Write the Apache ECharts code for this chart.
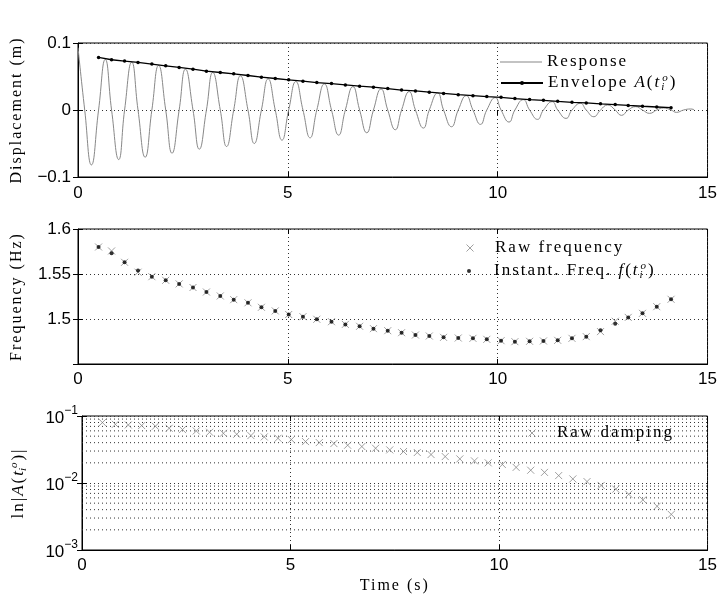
<!DOCTYPE html>
<html><head><meta charset="utf-8">
<script src="https://cdn.jsdelivr.net/npm/echarts@6/dist/echarts.min.js"></script>
<style>html,body{margin:0;padding:0;background:#fff}#c{width:720px;height:596px}</style>
</head><body><div id="c"></div>
<script>
// ---- letter spacing for the serif (LaTeX-like) texts ----
(function(){
  var P = CanvasRenderingContext2D.prototype;
  if (!('letterSpacing' in P)) return;
  var of = P.fillText, om = P.measureText;
  function sp(f){ return /Liberation Serif/.test(f) ? '2px' : '0px'; }
  P.fillText = function(t,x,y,m){ this.letterSpacing = sp(this.font); return m === undefined ? of.call(this,t,x,y) : of.call(this,t,x,y,m); };
  P.measureText = function(t){ this.letterSpacing = sp(this.font); return om.call(this,t); };
})();

// ---- data ----
const respT = [0, 0.16, 0.32, 0.49, 0.65, 0.80, 0.97, 1.11, 1.28, 1.43, 1.60, 1.76, 1.92, 2.09, 2.24, 2.41, 2.56, 2.74, 2.89, 3.06, 3.21, 3.39, 3.54, 3.71, 3.87, 4.05, 4.20, 4.37, 4.53, 4.70, 4.86, 5.02, 5.19, 5.36, 5.53, 5.69, 5.87, 6.04, 6.21, 6.37, 6.55, 6.71, 6.88, 7.04, 7.22, 7.38, 7.56, 7.71, 7.89, 8.04, 8.23, 8.37, 8.57, 8.71, 8.90, 9.06, 9.25, 9.41, 9.59, 9.74, 9.94, 10.08, 10.27, 10.41, 10.61, 10.76, 10.95, 11.09, 11.30, 11.43, 11.63, 11.77, 11.97, 12.11, 12.29, 12.45, 12.62, 12.80, 12.95, 13.11, 13.29, 13.45, 13.62, 13.79, 13.95, 14.13, 14.26, 14.43, 14.60, 14.68];
const respY = [0.093, 0, -0.082, 0, 0.0755, 0, -0.074, 0, 0.0715, 0, -0.0705, 0, 0.0665, 0, -0.0645, 0, 0.061, 0, -0.0585, 0, 0.056, 0, -0.0545, 0, 0.051, 0, -0.050, 0, 0.0465, 0, -0.045, 0, 0.0425, 0, -0.0415, 0, 0.039, 0, -0.0375, 0, 0.035, 0, -0.034, 0, 0.0315, 0, -0.0295, 0, 0.0275, 0, -0.027, 0, 0.0255, 0, -0.025, 0, 0.0215, 0, -0.0215, 0, 0.0185, 0, -0.018, 0, 0.0155, 0, -0.014, 0, 0.0125, 0, -0.0125, 0, 0.010, 0, -0.010, 0, 0.0075, 0, -0.008, 0, 0.005, 0, -0.005, 0, 0.003, 0, -0.0035, 0, 0.0015, 0.0005];

const sampleT = [0.49, 0.80, 1.11, 1.43, 1.76, 2.09, 2.41, 2.74, 3.06, 3.39, 3.71, 4.05, 4.37, 4.70, 5.02, 5.36, 5.69, 6.04, 6.37, 6.71, 7.04, 7.38, 7.71, 8.04, 8.37, 8.71, 9.06, 9.41, 9.74, 10.08, 10.41, 10.76, 11.09, 11.43, 11.77, 12.11, 12.45, 12.80, 13.11, 13.45, 13.79, 14.13];
const envelopeA = [0.0785, 0.075, 0.073, 0.071, 0.0685, 0.066, 0.0635, 0.061, 0.058, 0.056, 0.054, 0.0515, 0.049, 0.047, 0.045, 0.043, 0.041, 0.0395, 0.0375, 0.0355, 0.034, 0.032, 0.0298, 0.0285, 0.0266, 0.0248, 0.0229, 0.0214, 0.0200, 0.0189, 0.0171, 0.0155, 0.0144, 0.0129, 0.0115, 0.0105, 0.0092, 0.0081, 0.0068, 0.0056, 0.0045, 0.0034];
const rawFreq = [1.580, 1.5756, 1.563, 1.552, 1.547, 1.543, 1.539, 1.535, 1.530, 1.5256, 1.5215, 1.518, 1.513, 1.509, 1.505, 1.5026, 1.4997, 1.497, 1.494, 1.4919, 1.4893, 1.487, 1.4848, 1.4822, 1.4811, 1.4796, 1.4789, 1.4785, 1.4774, 1.4759, 1.4748, 1.4752, 1.4756, 1.4763, 1.4785, 1.4804, 1.4860, 1.4975, 1.5018, 1.5063, 1.5137, 1.5219];
const instFreq = [1.580, 1.573, 1.563, 1.554, 1.547, 1.543, 1.539, 1.535, 1.530, 1.5256, 1.5215, 1.518, 1.513, 1.509, 1.505, 1.5026, 1.4997, 1.497, 1.494, 1.4919, 1.4893, 1.487, 1.4848, 1.4822, 1.4811, 1.4796, 1.4789, 1.4785, 1.4774, 1.4759, 1.4748, 1.4752, 1.4756, 1.4763, 1.4785, 1.4804, 1.4874, 1.4948, 1.5018, 1.5063, 1.5137, 1.5219];
const rawDamping = [0.0798, 0.0751, 0.0735, 0.0720, 0.0703, 0.0656, 0.0627, 0.0598, 0.0572, 0.0552, 0.0534, 0.0510, 0.0487, 0.0465, 0.0445, 0.0415, 0.0401, 0.0388, 0.0366, 0.0350, 0.0330, 0.0312, 0.0295, 0.0285, 0.0266, 0.0248, 0.0229, 0.0214, 0.0200, 0.0189, 0.0171, 0.0155, 0.0144, 0.0129, 0.0115, 0.0105, 0.0092, 0.0081, 0.0068, 0.0056, 0.0045, 0.0034];

const xTickVals = [0, 5, 10, 15];
const xTickText = ['0', '5', '10', '15'];
const dispTickVals = [-0.1, 0, 0.1];
const dispTickText = ['\u22120.1', '0', '0.1'];
const freqTickVals = [1.5, 1.55, 1.6];
const freqTickText = ['1.5', '1.55', '1.6'];
const dampTickVals = [0.001, 0.01, 0.1];
const dampTickExp = ['\u22123', '\u22122', '\u22121'];
const dampMinorVals = [0.002, 0.003, 0.004, 0.005, 0.006, 0.007, 0.008, 0.009, 0.02, 0.03, 0.04, 0.05, 0.06, 0.07, 0.08, 0.09];

// ---- styles ----
const SANS = 'Liberation Sans';
const SERIF = 'Liberation Serif';
const GRAY = '#888888';
const xMark = 'path://M0,0L10,10M10,0L0,10';
const gridDot = { type: [1, 3], color: '#333', width: 1 };

function pick(vals, texts, v) {
  for (let i = 0; i < vals.length; i++) if (Math.abs(vals[i] - v) < 1e-9 * Math.max(1, Math.abs(v)) + 1e-12) return texts[i];
  return '';
}
function pickLog(v) {
  for (let i = 0; i < dampTickVals.length; i++) if (Math.abs(v / dampTickVals[i] - 1) < 1e-6) return '{b|10}{s|' + dampTickExp[i] + '}';
  return '';
}

const mathRich = {
  n: { fontFamily: SERIF, fontSize: 17, lineHeight: 22, color: '#000' },
  m: { fontFamily: SERIF, fontSize: 17, fontStyle: 'italic', lineHeight: 22, color: '#000' },
  sb: { fontFamily: SERIF, fontSize: 11, fontStyle: 'italic', lineHeight: 11, verticalAlign: 'bottom', width: 1, color: '#000' },
  sp: { fontFamily: SERIF, fontSize: 11, fontStyle: 'italic', lineHeight: 11, verticalAlign: 'top', color: '#000' }
};

const grids = [
  { left: 78, top: 43, width: 630, height: 134 },
  { left: 78, top: 229, width: 630, height: 135 },
  { left: 78, top: 416, width: 630, height: 134 }
].map(g => Object.assign(g, { show: true, borderColor: '#000', borderWidth: 1, backgroundColor: '#fff' }));

function mainX(i) {
  const ax = {
    gridIndex: i, type: 'value', min: 0, max: 15, interval: 5,
    axisLine: { show: true, onZero: false, lineStyle: { color: '#000', width: 1 } },
    axisTick: { show: true, inside: true, length: 5, lineStyle: { color: '#000' } },
    axisLabel: { margin: i === 0 ? 8 : 7, fontFamily: SANS, fontSize: 17, color: '#000', formatter: v => pick(xTickVals, xTickText, v) },
    splitLine: { show: true, lineStyle: gridDot }
  };
  if (i === 2) {
    ax.name = 'Time (s)';
    ax.nameLocation = 'middle';
    ax.nameGap = 27;
    ax.nameTextStyle = { fontFamily: SERIF, fontSize: 16, color: '#000' };
  }
  return ax;
}
function topX(i) {
  return {
    gridIndex: i, type: 'value', min: 0, max: 15, interval: 5, position: 'top',
    axisLine: { show: false }, axisTick: { show: true, inside: true, length: 5, lineStyle: { color: '#000' } },
    axisLabel: { show: false }, splitLine: { show: false }
  };
}
const yCommon = {
  axisLine: { show: true, onZero: false, lineStyle: { color: '#000', width: 1 } },
  axisTick: { show: true, inside: true, length: 5, lineStyle: { color: '#000' } },
  splitLine: { show: true, lineStyle: gridDot },
  nameLocation: 'middle', nameRotate: 90, nameGap: 52
};
const yAxes = [
  Object.assign({}, yCommon, {
    gridIndex: 0, type: 'value', min: -0.1, max: 0.1, interval: 0.1,
    name: 'Displacement (m)', nameTextStyle: { fontFamily: SERIF, fontSize: 16, color: '#000' },
    axisLabel: { margin: 7, fontFamily: SANS, fontSize: 17, color: '#000', formatter: v => pick(dispTickVals, dispTickText, v) }
  }),
  Object.assign({}, yCommon, {
    gridIndex: 1, type: 'value', min: 1.45, max: 1.6, interval: 0.05,
    name: 'Frequency (Hz)', nameTextStyle: { fontFamily: SERIF, fontSize: 16, color: '#000' },
    axisLabel: { margin: 7, fontFamily: SANS, fontSize: 17, color: '#000', formatter: v => pick(freqTickVals, freqTickText, v) }
  }),
  Object.assign({}, yCommon, {
    gridIndex: 2, type: 'log', logBase: 10, min: 0.001, max: 0.1,
    name: '{n|ln|}{m|A}{n|(}{m|t}{sb|i}{sp|o}{n|)|}',
    nameTextStyle: { fontFamily: SERIF, fontSize: 16, color: '#000', rich: mathRich },
    axisLabel: { margin: 4, color: '#000', formatter: v => pickLog(v),
      rich: { b: { fontFamily: SANS, fontSize: 17, lineHeight: 22, verticalAlign: 'bottom', color: '#000' },
              s: { fontFamily: SANS, fontSize: 12, lineHeight: 10, verticalAlign: 'top', color: '#000' } } }
  }),
  { gridIndex: 0, type: 'value', min: -0.1, max: 0.1, interval: 0.1, position: 'right', axisLine: { show: false }, axisTick: { show: true, inside: true, length: 5, lineStyle: { color: '#000' } }, axisLabel: { show: false }, splitLine: { show: false } },
  { gridIndex: 1, type: 'value', min: 1.45, max: 1.6, interval: 0.05, position: 'right', axisLine: { show: false }, axisTick: { show: true, inside: true, length: 5, lineStyle: { color: '#000' } }, axisLabel: { show: false }, splitLine: { show: false } },
  { gridIndex: 2, type: 'log', logBase: 10, min: 0.001, max: 0.1, position: 'right', axisLine: { show: false }, axisTick: { show: true, inside: true, length: 5, lineStyle: { color: '#000' } }, axisLabel: { show: false }, splitLine: { show: false } }
];

function legendBase(extra) {
  return Object.assign({
    orient: 'vertical', padding: 0, itemGap: 0, selectedMode: false,
    textStyle: { fontFamily: SERIF, fontSize: 17, lineHeight: 22, color: '#000', rich: mathRich }
  }, extra);
}
const legendText = {
  'Response': '{n|Response}',
  'Envelope': '{n|Envelope }{m|A}{n|(}{m|t}{sb|i}{sp|o}{n|)}',
  'Raw frequency': '{n|Raw frequency}',
  'Instant. Freq.': '{n|Instant. Freq. }{m|f}{n|(}{m|t}{sb|i}{sp|o}{n|)}',
  'Raw damping': '{n|Raw damping}'
};
const fmt = name => legendText[name] || name;

// minor log grid lines drawn as plain line series through the log scale
const minorGridSeries = dampMinorVals.map(v => ({
  type: 'line', xAxisIndex: 2, yAxisIndex: 2, silent: true, symbol: 'none', z: 1,
  lineStyle: gridDot, data: [[xTickVals[0], v], [xTickVals[xTickVals.length - 1], v]]
}));

const option = {
  animation: false,
  backgroundColor: '#fff',
  grid: grids,
  xAxis: [mainX(0), mainX(1), mainX(2), topX(0), topX(1), topX(2)],
  yAxis: yAxes,
  legend: [
    legendBase({ left: 500, top: 51, itemWidth: 42, itemHeight: 1, formatter: fmt,
      data: [{ name: 'Response', icon: 'rect', itemStyle: { color: GRAY, borderWidth: 0 } }] }),
    legendBase({ left: 500, top: 72, itemWidth: 42, itemHeight: 5, formatter: fmt,
      data: [{ name: 'Envelope' }] }),
    legendBase({ left: 466, top: 237, itemWidth: 40, itemHeight: 7, formatter: fmt,
      data: [{ name: 'Raw frequency', icon: xMark, itemStyle: { color: 'rgba(0,0,0,0)', borderColor: GRAY, borderWidth: 1 } }] }),
    legendBase({ left: 467, top: 260, itemWidth: 40, itemHeight: 4, formatter: fmt,
      data: [{ name: 'Instant. Freq.', icon: 'circle', itemStyle: { color: '#000', borderWidth: 0 } }] }),
    legendBase({ left: 528, top: 422, itemWidth: 40, itemHeight: 7, formatter: fmt,
      data: [{ name: 'Raw damping', icon: xMark, itemStyle: { color: 'rgba(0,0,0,0)', borderColor: GRAY, borderWidth: 1 } }] })
  ],
  series: [
    { name: 'Response', type: 'line', xAxisIndex: 0, yAxisIndex: 0, smooth: 0.5, symbol: 'none', showSymbol: false,
      lineStyle: { color: GRAY, width: 1 }, itemStyle: { color: GRAY },
      data: respT.map((t, i) => [t, respY[i]]) },
    { name: 'Envelope', type: 'line', xAxisIndex: 0, yAxisIndex: 0, symbol: 'circle', symbolSize: 3.5,
      lineStyle: { color: '#000', width: 1.3 }, itemStyle: { color: '#000' },
      data: sampleT.map((t, i) => [t, envelopeA[i]]) },
    { name: 'Raw frequency', type: 'scatter', xAxisIndex: 1, yAxisIndex: 1, symbol: xMark, symbolSize: 7,
      itemStyle: { color: 'rgba(0,0,0,0)', borderColor: GRAY, borderWidth: 1 },
      data: sampleT.map((t, i) => [t, rawFreq[i]]) },
    { name: 'Instant. Freq.', type: 'scatter', xAxisIndex: 1, yAxisIndex: 1, symbol: 'circle', symbolSize: 4,
      itemStyle: { color: '#000' },
      data: sampleT.map((t, i) => [t, instFreq[i]]) },
    { name: 'Raw damping', type: 'scatter', xAxisIndex: 2, yAxisIndex: 2, symbol: xMark, symbolSize: 7, z: 3,
      itemStyle: { color: 'rgba(0,0,0,0)', borderColor: GRAY, borderWidth: 1 },
      data: sampleT.map((t, i) => [t, rawDamping[i]]) }
  ].concat(minorGridSeries)
};

const chart = echarts.init(document.getElementById('c'), null, { renderer: 'canvas' });
chart.setOption(option);
</script>
</body></html>
